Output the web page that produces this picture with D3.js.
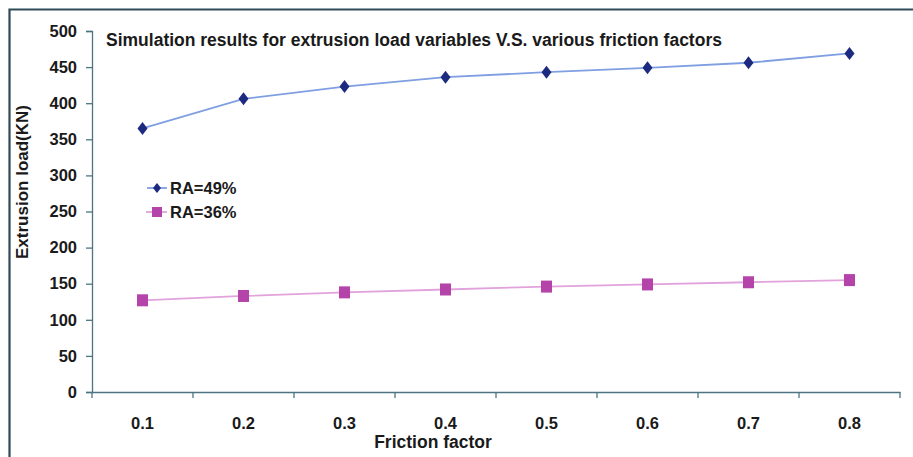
<!DOCTYPE html>
<html>
<head>
<meta charset="utf-8">
<script src="https://cdn.jsdelivr.net/npm/d3@7"></script>
<style>
  html, body { margin: 0; padding: 0; background: #fff; }
  svg { display: block; }
  text { font-family: "Liberation Sans", Arial, sans-serif; font-weight: bold; fill: #1a1a1a; }
</style>
</head>
<body>
<svg id="chart" width="913" height="457"></svg>
<script>
const categories = ["0.1", "0.2", "0.3", "0.4", "0.5", "0.6", "0.7", "0.8"];
const ra49 = [365, 406, 423, 436, 443, 449, 456, 469];
const ra36 = [127, 133, 138, 142, 146, 149, 152, 155];
const yTicks = [0, 50, 100, 150, 200, 250, 300, 350, 400, 450, 500];
const seriesNames = ["RA=49%", "RA=36%"];
const titleText = "Simulation results for extrusion load variables V.S. various friction factors";
const xTitle = "Friction factor";
const yTitle = "Extrusion load(KN)";

const svg = d3.select("#chart");
const axisColor = "#4d7483";

// outer frame
svg.append("path")
  .attr("d", "M9.5,457 L9.5,9.5 L913,9.5")
  .attr("fill", "none").attr("stroke", "#2e4a58").attr("stroke-width", 2.2);

const mLeft = 92, mRight = 900, mTop = 31, mBottom = 392;

const x = d3.scaleBand().domain(categories).range([mLeft, mRight]);
const y = d3.scaleLinear().domain([0, 500]).range([mBottom, mTop]);

// y axis
const yAxis = svg.append("g").attr("transform", `translate(${mLeft},0)`)
  .call(d3.axisLeft(y).tickValues(yTicks).tickSize(6).tickPadding(9));
yAxis.select(".domain").attr("stroke", axisColor).attr("stroke-width", 1.3);
yAxis.selectAll(".tick line").attr("stroke", axisColor).attr("stroke-width", 1.3);
yAxis.selectAll("text").attr("font-size", 16.5).attr("fill", "#1a1a1a")
  .attr("font-family", "'Liberation Sans', Arial, sans-serif").attr("font-weight", "bold");

// x axis
const xAxis = svg.append("g").attr("transform", `translate(0,${mBottom})`)
  .call(d3.axisBottom(x).tickSize(0).tickPadding(25));
xAxis.select(".domain").attr("stroke", axisColor).attr("stroke-width", 1.3);
xAxis.selectAll("text").attr("font-size", 16.5).attr("fill", "#1a1a1a")
  .attr("font-family", "'Liberation Sans', Arial, sans-serif").attr("font-weight", "bold");
// boundary ticks between categories
const bounds = categories.map(c => x(c)).concat([x(categories[categories.length - 1]) + x.bandwidth()]);
svg.append("g").selectAll("line").data(bounds).join("line")
  .attr("x1", d => d).attr("x2", d => d)
  .attr("y1", mBottom).attr("y2", mBottom + 6)
  .attr("stroke", axisColor).attr("stroke-width", 1.3);

// titles
svg.append("text").attr("x", 106).attr("y", 46).attr("font-size", 17.5).text(titleText);
svg.append("text").attr("x", 433).attr("y", 448)
  .attr("text-anchor", "middle").attr("font-size", 17.5).text(xTitle);
svg.append("text").attr("transform", "translate(28,182) rotate(-90)")
  .attr("text-anchor", "middle").attr("font-size", 17).text(yTitle);

const cx = d => x(d) + x.bandwidth() / 2;
const line = d3.line().x((d, i) => cx(categories[i])).y(d => y(d));

// RA=49%
svg.append("path").datum(ra49).attr("d", line)
  .attr("fill", "none").attr("stroke", "#7f9fe2").attr("stroke-width", 1.8);
const diamond = "M0,-6.5 L5,0 L0,6.5 L-5,0 Z";
svg.append("g").selectAll("path").data(ra49).join("path")
  .attr("transform", (d, i) => `translate(${cx(categories[i])},${y(d)})`)
  .attr("d", diamond).attr("fill", "#1c2a80");

// RA=36%
svg.append("path").datum(ra36).attr("d", line)
  .attr("fill", "none").attr("stroke", "#e2a2dc").attr("stroke-width", 1.8);
svg.append("g").selectAll("rect").data(ra36).join("rect")
  .attr("x", (d, i) => cx(categories[i]) - 5.5).attr("y", d => y(d) - 6)
  .attr("width", 11).attr("height", 12).attr("fill", "#b444aa");

// legend
const lg = svg.append("g");
const legY = [188, 212];
lg.append("line").attr("x1", 147).attr("x2", 167).attr("y1", legY[0]).attr("y2", legY[0])
  .attr("stroke", "#7f9fe2").attr("stroke-width", 1.8);
lg.append("path").attr("transform", `translate(157,${legY[0]})`).attr("d", "M0,-5 L4,0 L0,5 L-4,0 Z").attr("fill", "#1c2a80");
lg.append("line").attr("x1", 146).attr("x2", 167).attr("y1", legY[1]).attr("y2", legY[1])
  .attr("stroke", "#e2a2dc").attr("stroke-width", 1.8);
lg.append("rect").attr("x", 152).attr("y", legY[1] - 5).attr("width", 10).attr("height", 10).attr("fill", "#b444aa");
seriesNames.forEach((n, i) => {
  lg.append("text").attr("x", 170).attr("y", legY[i] + 6).attr("font-size", 16.5).text(n);
});
</script>
</body>
</html>
